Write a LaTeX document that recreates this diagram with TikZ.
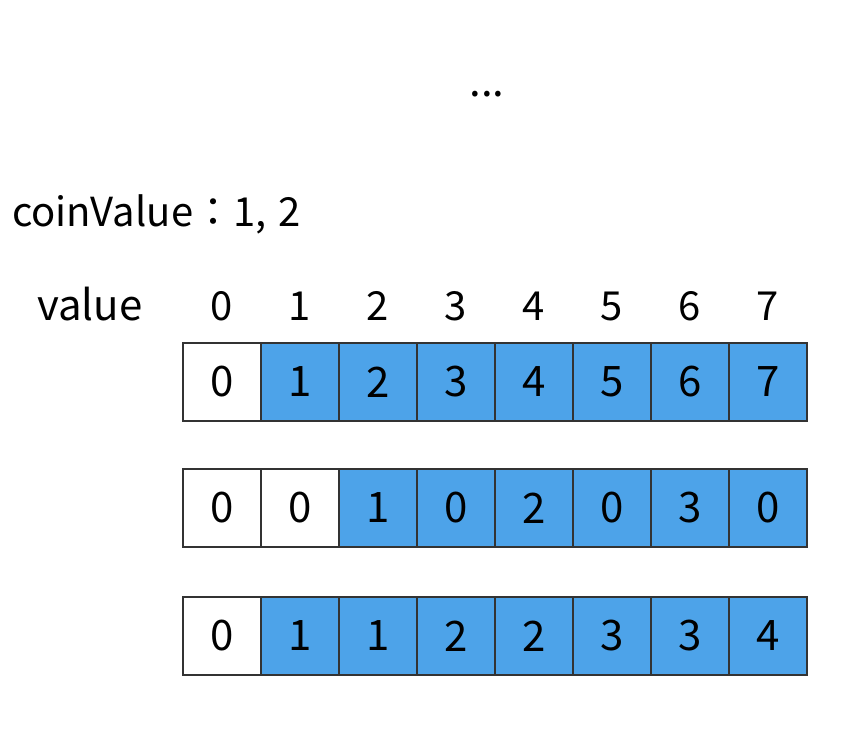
\documentclass[tikz,border=0pt]{standalone}
\usepackage{fontspec}
\setmainfont{Noto Sans CJK SC}
\newfontfamily\jpfont{Noto Sans CJK JP}
\definecolor{cellblue}{HTML}{4DA3E9}
\definecolor{cellline}{HTML}{333333}
\tikzset{
  cell/.style={draw=cellline, line width=1.3pt, minimum width=78pt, minimum height=78pt, inner sep=0pt, font=\fontsize{42}{44}\selectfont},
  bluecell/.style={cell, fill=cellblue},
  whitecell/.style={cell, fill=white},
  head/.style={anchor=base, inner sep=0pt, font=\fontsize{40}{44}\selectfont},
}
\begin{document}
\begin{tikzpicture}[x=1pt,y=-1pt]
\useasboundingbox (0,0) rectangle (856,732);
\node[anchor=center, inner sep=0pt, font=\fontsize{42}{44}\selectfont] (dots) at (487,94) {...};
\node[anchor=base west, inner sep=0pt, font=\fontsize{40}{44}\selectfont] (coin) at (12,226) {coinValue{\jpfont ：}1,\hspace{0.3em}2};
\node[anchor=base west, inner sep=0pt, font=\fontsize{42}{44}\selectfont] (vlabel) at (37,320) {value};
\foreach \i in {0,...,7} {
  \node[head] (h\i) at (222+78*\i,320) {\i};
}
% row 1
\foreach \v [count=\k from 0] in {0,1,2,3,4,5,6,7} {
  \ifnum\k=0
    \node[whitecell] (a\k) at (222+78*\k,382) {\v};
  \else
    \node[bluecell] (a\k) at (222+78*\k,382) {\v};
  \fi
}
% row 2
\foreach \v [count=\k from 0] in {0,0,1,0,2,0,3,0} {
  \ifnum\k<2
    \node[whitecell] (b\k) at (222+78*\k,508) {\v};
  \else
    \node[bluecell] (b\k) at (222+78*\k,508) {\v};
  \fi
}
% row 3
\foreach \v [count=\k from 0] in {0,1,1,2,2,3,3,4} {
  \ifnum\k=0
    \node[whitecell] (c\k) at (222+78*\k,636) {\v};
  \else
    \node[bluecell] (c\k) at (222+78*\k,636) {\v};
  \fi
}
\end{tikzpicture}
\end{document}
